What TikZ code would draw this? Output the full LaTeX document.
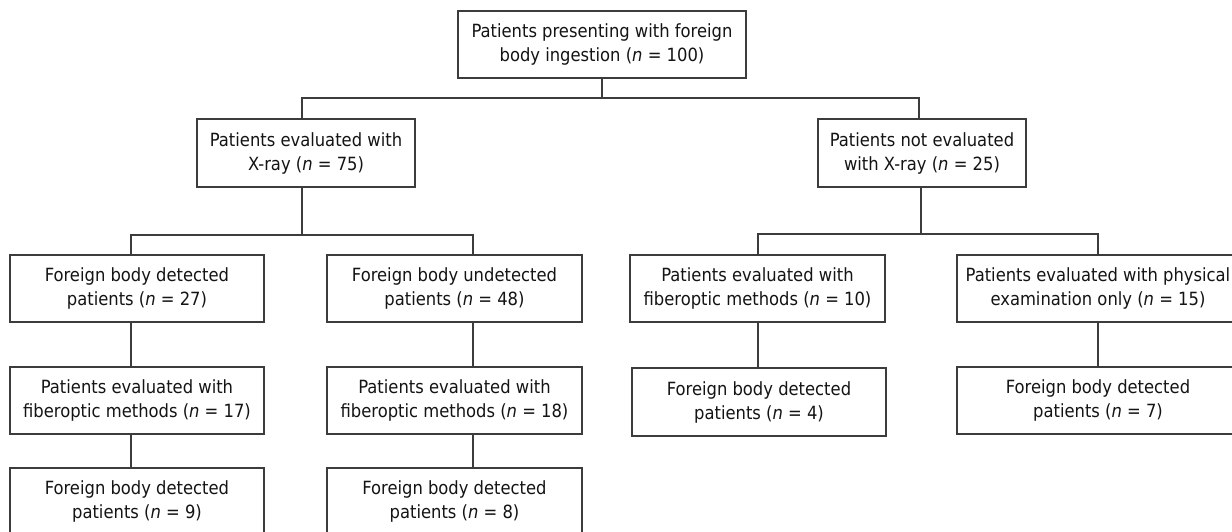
\documentclass[tikz,border=0pt]{standalone}
\usepackage{fontspec}
\setmainfont{DejaVu Sans Condensed}
\definecolor{linec}{RGB}{60,60,60}
\definecolor{textc}{RGB}{20,20,20}
\tikzset{
  box/.style={draw=linec, line width=1.2pt, inner sep=0pt, align=center,
    minimum height=67pt, text=textc, font=\fontsize{18.2}{24}\selectfont},
  conn/.style={draw=linec, line width=1.2pt}
}
\begin{document}
\begin{tikzpicture}[x=1pt,y=-1pt]
\path[use as bounding box] (0,0) rectangle (1232,531);
\fill[white] (0,0) rectangle (1232,531);
\clip (0,0) rectangle (1232,531);

\node[box, minimum width=288pt] (top) at (602,44.5) {Patients presenting with foreign\\body ingestion (\textit{n} = 100)};
\node[box, minimum width=218pt, minimum height=68pt] (l2a) at (306,153) {Patients evaluated with\\X-ray (\textit{n} = 75)};
\node[box, minimum width=208pt, minimum height=68pt] (l2b) at (922,153) {Patients not evaluated\\with X-ray (\textit{n} = 25)};

\node[box, minimum width=254pt] (A) at (137,288.5) {Foreign body detected\\patients (\textit{n} = 27)};
\node[box, minimum width=255pt] (B) at (454.5,288.5) {Foreign body undetected\\patients (\textit{n} = 48)};
\node[box, minimum width=254pt] (A2) at (137,400.5) {Patients evaluated with\\fiberoptic methods (\textit{n} = 17)};
\node[box, minimum width=255pt] (B2) at (454.5,400.5) {Patients evaluated with\\fiberoptic methods (\textit{n} = 18)};
\node[box, minimum width=254pt] (A3) at (137,501.5) {Foreign body detected\\patients (\textit{n} = 9)};
\node[box, minimum width=255pt] (B3) at (454.5,501.5) {Foreign body detected\\patients (\textit{n} = 8)};

\node[box, minimum width=255pt] (C) at (757.5,288.5) {Patients evaluated with\\fiberoptic methods (\textit{n} = 10)};
\node[box, minimum width=254pt, minimum height=68pt] (C2) at (759,402) {Foreign body detected\\patients (\textit{n} = 4)};
\node[box, minimum width=282pt] (D) at (1098,288.5) {Patients evaluated with physical\\examination only (\textit{n} = 15)};
\node[box, minimum width=282pt] (D2) at (1098,400.5) {Foreign body detected\\patients (\textit{n} = 7)};

\coordinate (j0) at (602,98);
\coordinate (j1) at (302,235);
\coordinate (j2) at (921,234);

\draw[conn] (top.south) -- (j0);
\draw[conn] ([xshift=-4pt]l2a.north) |- (j0) -| ([xshift=-3pt]l2b.north);

\draw[conn] ([xshift=-4pt]l2a.south) -- (j1);
\draw[conn] ([xshift=-6pt]A.north) |- (j1) -| ([xshift=18.5pt]B.north);
\draw[conn] ([xshift=-6pt]A.south) -- ([xshift=-6pt]A2.north);
\draw[conn] ([xshift=-6pt]A2.south) -- ([xshift=-6pt]A3.north);
\draw[conn] ([xshift=18.5pt]B.south) -- ([xshift=18.5pt]B2.north);
\draw[conn] ([xshift=18.5pt]B2.south) -- ([xshift=18.5pt]B3.north);

\draw[conn] ([xshift=-1pt]l2b.south) -- (j2);
\draw[conn] ([xshift=0.5pt]C.north) |- (j2) -| (D.north);
\draw[conn] ([xshift=0.5pt]C.south) -- ([xshift=0.5pt]C.south |- C2.north);
\draw[conn] (D.south) -- (D2.north);
\end{tikzpicture}
\end{document}
